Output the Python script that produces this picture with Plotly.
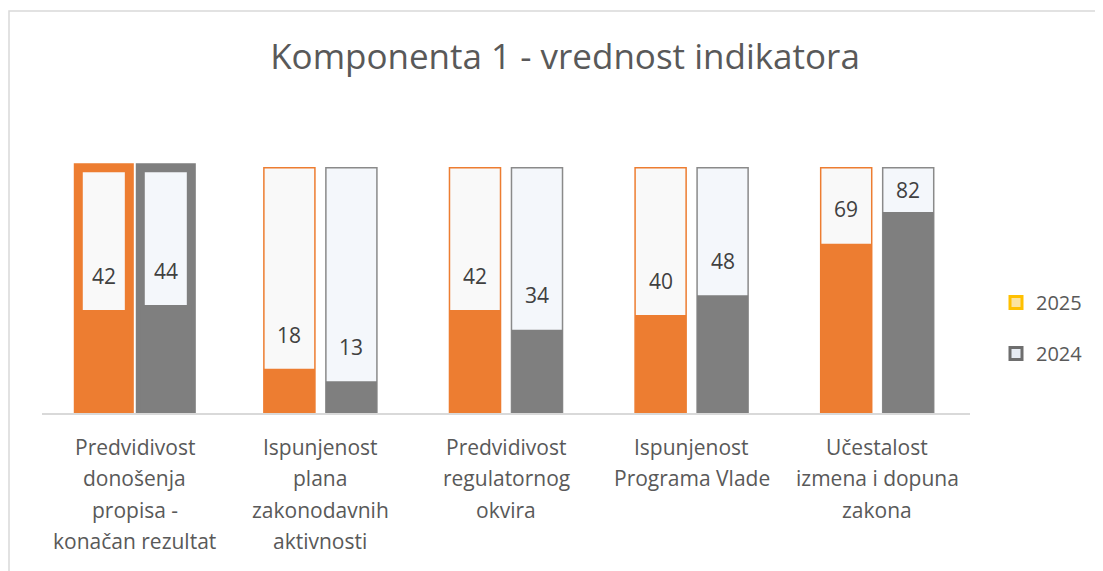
import plotly.graph_objects as go

# ---- data ----
categories = [
    "Predvidivost<br>donošenja<br>propisa -<br>konačan rezultat",
    "Ispunjenost<br>plana<br>zakonodavnih<br>aktivnosti",
    "Predvidivost<br>regulatornog<br>okvira",
    "Ispunjenost<br>Programa Vlade",
    "Učestalost<br>izmena i dopuna<br>zakona",
]
values_2025 = [42, 18, 42, 40, 69]
values_2024 = [44, 13, 34, 48, 82]
full_scale = [100, 100, 100, 100, 100]
series_names = ["2025", "2024"]
title_text = "Komponenta 1 - vrednost indikatora"

# ---- style ----
PAGE = 8  # browser body margin
W, H = 1103 - PAGE, 571 - PAGE
ML, MT = 42 - PAGE, 158 - PAGE
MR = W - (970 - PAGE)
MB = H - (413 - PAGE)
FONT = "Open Sans, Noto Sans, sans-serif"
ORANGE = "#ED7D31"
GRAY = "#7F7F7F"
keys = [c.replace("<br>", " ") for c in categories]

bar_w = 0.275
off = 0.167
# first group is drawn "selected" (thick outline) as in the reference
outline_w = [9] + [1.5] * (len(categories) - 1)

pw = W - ML - MR
ph = H - MT - MB

fig = go.Figure()
for vals, color, pale, line_c, sign in [
    (values_2025, ORANGE, "#F9F9F9", ORANGE, -1),
    (values_2024, GRAY, "#F4F7FB", "#8A8A8A", 1),
]:
    offset = sign * off - bar_w / 2
    line_colors = [color] + [line_c] * (len(categories) - 1)
    fig.add_trace(go.Bar(
        x=keys, y=full_scale, width=bar_w, offset=offset,
        marker=dict(color=pale, line=dict(color=line_colors, width=outline_w)),
        showlegend=False, hoverinfo="skip",
    ))
    fig.add_trace(go.Bar(
        x=keys, y=vals, width=bar_w, offset=offset,
        marker=dict(color=color, line=dict(width=0)),
        showlegend=False,
    ))
    for k, v in zip(keys, vals):
        ypos = min(v + 14, (v + 100) / 2)
        fig.add_annotation(
            x=k, y=ypos, xref="x", yref="y", text=str(v), showarrow=False,
            xshift=sign * off * pw / len(categories),
            font=dict(family=FONT, size=21, color="#404040"),
        )

# legend entries
for name, col, lc, grp in [("2025", "#FBE3A0", "#FFC000", "a"), ("2024", "#E7ECF3", "#6E6E6E", "b")]:
    fig.add_trace(go.Bar(
        x=[keys[0]], y=[None], name=name, legendgroup=grp,
        marker=dict(color=col, line=dict(color=lc, width=3)),
    ))

# category labels, one annotation per line
for k, cat in zip(keys, categories):
    for i, line in enumerate(cat.split("<br>")):
        fig.add_annotation(
            x=k, y=0, xref="x", yref="y", text=line, showarrow=False,
            yanchor="middle", yshift=-34 - 31.3 * i,
            font=dict(family=FONT, size=21, color="#595959"),
        )

# chart-area frame
fig.add_shape(
    type="rect", xref="paper", yref="paper",
    x0=(1 - ML) / pw, x1=(W + 5 - ML) / pw,
    y0=-(H + 5 - (H - MB)) / ph, y1=((H - MB) - 3) / ph,
    line=dict(color="#D9D9D9", width=1.5), fillcolor="rgba(0,0,0,0)", layer="below",
)

fig.update_layout(
    width=W, height=H,
    margin=dict(l=ML, r=MR, t=MT, b=MB),
    paper_bgcolor="white", plot_bgcolor="white",
    barmode="overlay",
    title=dict(text=title_text, x=(565 - PAGE) / W, xref="container", xanchor="center",
               y=1 - (57 - PAGE) / H, yref="container", yanchor="middle",
               font=dict(family=FONT, size=35, color="#595959")),
    xaxis=dict(showticklabels=False, ticks="", showgrid=False, showline=True,
               linecolor="#D9D9D9", linewidth=1.5, categoryorder="array",
               categoryarray=keys, range=[-0.5, len(keys) - 0.5], fixedrange=True),
    yaxis=dict(range=[0, 104], visible=False, showgrid=False, zeroline=False),
    legend=dict(x=(996 - PAGE - ML) / pw, xanchor="left", y=(413 - 328) / ph, yanchor="middle",
                font=dict(family=FONT, size=20, color="#595959"),
                tracegroupgap=22, bgcolor="rgba(0,0,0,0)", itemwidth=30),
    showlegend=True,
)

fig.write_html("out.html")
